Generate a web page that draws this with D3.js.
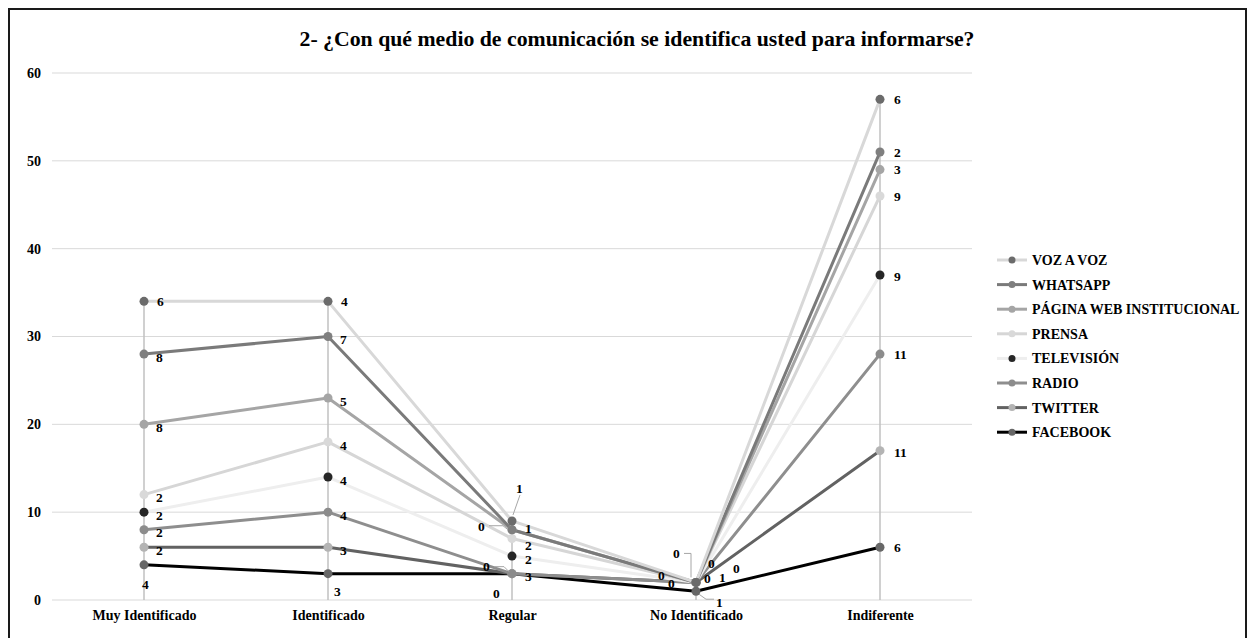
<!DOCTYPE html>
<html>
<head>
<meta charset="utf-8">
<script src="https://cdn.jsdelivr.net/npm/d3@7"></script>
<style>
  html, body { margin: 0; padding: 0; background: #fff; }
  svg { display: block; }
  text { font-family: "Liberation Serif", "Times New Roman", serif; font-weight: bold; fill: #000; }
</style>
</head>
<body>
<svg id="chart" width="1248" height="638"></svg>
<script>
// ---------------- DATA ----------------
const title = "2- ¿Con qué medio de comunicación se identifica usted para informarse?";
const categories = ["Muy Identificado", "Identificado", "Regular", "No Identificado", "Indiferente"];
// series in stacking order (bottom to top)
const seriesNames = ["FACEBOOK", "TWITTER", "RADIO", "TELEVISIÓN", "PRENSA", "PÁGINA WEB INSTITUCIONAL", "WHATSAPP", "VOZ A VOZ"];
const facebook = [4, 3, 3, 1, 6];
const twitter  = [2, 3, 0, 1, 11];
const radio    = [2, 4, 0, 0, 11];
const television = [2, 4, 2, 0, 9];
const prensa   = [2, 4, 2, 0, 9];
const paginaWeb = [8, 5, 1, 0, 3];
const whatsapp = [8, 7, 0, 0, 2];
const vozAVoz  = [6, 4, 1, 0, 6];
const yTicks = [0, 10, 20, 30, 40, 50, 60];

const seriesValues = [facebook, twitter, radio, television, prensa, paginaWeb, whatsapp, vozAVoz];

// ---------------- STYLES ----------------
const lineColors   = ["#000000", "#626262", "#8e8e8e", "#eeeeee", "#d6d6d6", "#a5a5a5", "#7a7a7a", "#d8d8d8"];
const markerColors = ["#676767", "#b4b4b4", "#8c8c8c", "#262626", "#d9d9d9", "#a5a5a5", "#7f7f7f", "#6b6b6b"];

// label offsets (text left edge dx, text centre dy) relative to the point; key "series,category"
const defaultLabel = {dx: 12, dy: 3};
const labelOffsets = {
  "7,0": {dx: 13, dy: 0}, "0,0": {dx: -2, dy: 19},
  "7,1": {dx: 13, dy: 0}, "0,1": {dx: 6, dy: 18},
  "7,2": {dx: 4, dy: -33, leader: [[8, -26], [1, -6]]},
  "6,2": {dx: -34, dy: -3, leader: [[-23, -4], [-9, -4], [-4, 0]]},
  "5,2": {dx: 13, dy: -1}, "4,2": {dx: 13, dy: 7}, "3,2": {dx: 13, dy: 3},
  "2,2": {dx: -29, dy: -7, leader: [[-18, -7], [-8, -7], [-3, -2]]},
  "0,2": {dx: 13, dy: 3}, "1,2": {dx: -19, dy: 20},
  "7,3": {dx: -23, dy: -29, leader: [[-12, -29], [-5, -29], [-5, -5]]},
  "6,3": {dx: 12, dy: -19}, "5,3": {dx: 37, dy: -14}, "4,3": {dx: 8, dy: -4},
  "3,3": {dx: -38, dy: -7}, "1,3": {dx: 23, dy: -5}, "2,3": {dx: -28, dy: 1},
  "0,3": {dx: 20, dy: 11, leader: [[3, 3], [10, 8], [18, 8]]},
  "0,4": {dx: 14, dy: 0}, "1,4": {dx: 14, dy: 2}, "2,4": {dx: 14, dy: 0}, "3,4": {dx: 14, dy: 1},
  "4,4": {dx: 14, dy: 0}, "5,4": {dx: 14, dy: 0}, "6,4": {dx: 14, dy: 0}, "7,4": {dx: 14, dy: 0}
};

// ---------------- LAYOUT ----------------
const svg = d3.select("#chart");
const plotLeft = 52, plotRight = 972, plotTop = 73, plotBottom = 600;

const x = d3.scalePoint().domain(categories).range([plotLeft, plotRight]).padding(0.5);
const y = d3.scaleLinear().domain([0, 60]).range([plotBottom, plotTop]);

// frame
svg.append("rect").attr("x", 9).attr("y", 9).attr("width", 1237).attr("height", 630)
  .attr("fill", "#fff").attr("stroke", "#1a1a1a").attr("stroke-width", 2);

// title
svg.append("text").attr("x", 637).attr("y", 46).attr("text-anchor", "middle")
  .attr("font-size", 21).attr("textLength", 675).attr("lengthAdjust", "spacingAndGlyphs")
  .text(title);

// gridlines
svg.append("g").selectAll("line").data(yTicks).join("line")
  .attr("x1", plotLeft).attr("x2", plotRight)
  .attr("y1", d => y(d)).attr("y2", d => y(d))
  .attr("stroke", "#d9d9d9").attr("stroke-width", 1);

// y axis labels
const yAxis = d3.axisLeft(y).tickValues(yTicks).tickSize(0).tickPadding(0);
const gy = svg.append("g").attr("transform", `translate(41,0)`).call(yAxis)
  .attr("font-size", null).attr("font-family", null);
gy.select(".domain").remove();
gy.selectAll("text").attr("font-size", 14).attr("font-family", "Liberation Serif, serif")
  .attr("font-weight", "bold").attr("fill", "#000");

// x axis labels
const xAxis = d3.axisBottom(x).tickSize(0).tickPadding(0);
const gx = svg.append("g").attr("transform", `translate(0,610)`).call(xAxis)
  .attr("font-size", null).attr("font-family", null);
gx.select(".domain").remove();
gx.selectAll("text").attr("font-size", 14).attr("font-family", "Liberation Serif, serif")
  .attr("font-weight", "bold").attr("fill", "#000");

// stack
const table = categories.map((c, i) => {
  const row = {cat: c};
  seriesNames.forEach((s, j) => row[s] = seriesValues[j][i]);
  return row;
});
const stacked = d3.stack().keys(seriesNames)(table);

// drop lines
const totals = table.map((r, i) => d3.sum(seriesValues, v => v[i]));
svg.append("g").selectAll("line").data(categories).join("line")
  .attr("x1", d => x(d)).attr("x2", d => x(d))
  .attr("y1", (d, i) => y(totals[i])).attr("y2", y(0))
  .attr("stroke", "#c0c0c0").attr("stroke-width", 1.5);

// lines
const line = d3.line().x((d, i) => x(categories[i])).y(d => y(d[1]));
const gLines = svg.append("g");
stacked.forEach((s, j) => {
  gLines.append("path").datum(s).attr("d", line)
    .attr("fill", "none").attr("stroke", lineColors[j]).attr("stroke-width", 3)
    .attr("stroke-linejoin", "round");
});
// markers
stacked.forEach((s, j) => {
  gLines.append("g").selectAll("circle").data(s).join("circle")
    .attr("cx", (d, i) => x(categories[i])).attr("cy", d => y(d[1])).attr("r", 4.5)
    .attr("fill", markerColors[j]);
});

// labels
const gLab = svg.append("g");
stacked.forEach((s, j) => {
  s.forEach((d, i) => {
    const px = x(categories[i]), py = y(d[1]);
    const o = labelOffsets[j + "," + i] || defaultLabel;
    if (o.leader) {
      gLab.append("polyline")
        .attr("points", o.leader.map(p => (px + p[0]) + "," + (py + p[1])).join(" "))
        .attr("fill", "none").attr("stroke", "#a6a6a6").attr("stroke-width", 1);
    }
    gLab.append("text").attr("x", px + o.dx).attr("y", py + o.dy).attr("dy", "0.35em")
      .attr("font-size", 13.5).text(seriesValues[j][i]);
  });
});

// legend
const legendOrder = d3.range(seriesNames.length).reverse();
const lg = svg.append("g").attr("transform", "translate(997,260)");
legendOrder.forEach((j, k) => {
  const row = lg.append("g").attr("transform", `translate(0,${k * 24.6})`);
  row.append("line").attr("x1", 0).attr("x2", 30).attr("y1", 0).attr("y2", 0)
    .attr("stroke", lineColors[j]).attr("stroke-width", 3);
  row.append("circle").attr("cx", 15).attr("cy", 0).attr("r", 3.5).attr("fill", markerColors[j]);
  row.append("text").attr("x", 35).attr("y", 0).attr("dy", "0.35em").attr("font-size", 14)
    .text(seriesNames[j]);
});
</script>
</body>
</html>
